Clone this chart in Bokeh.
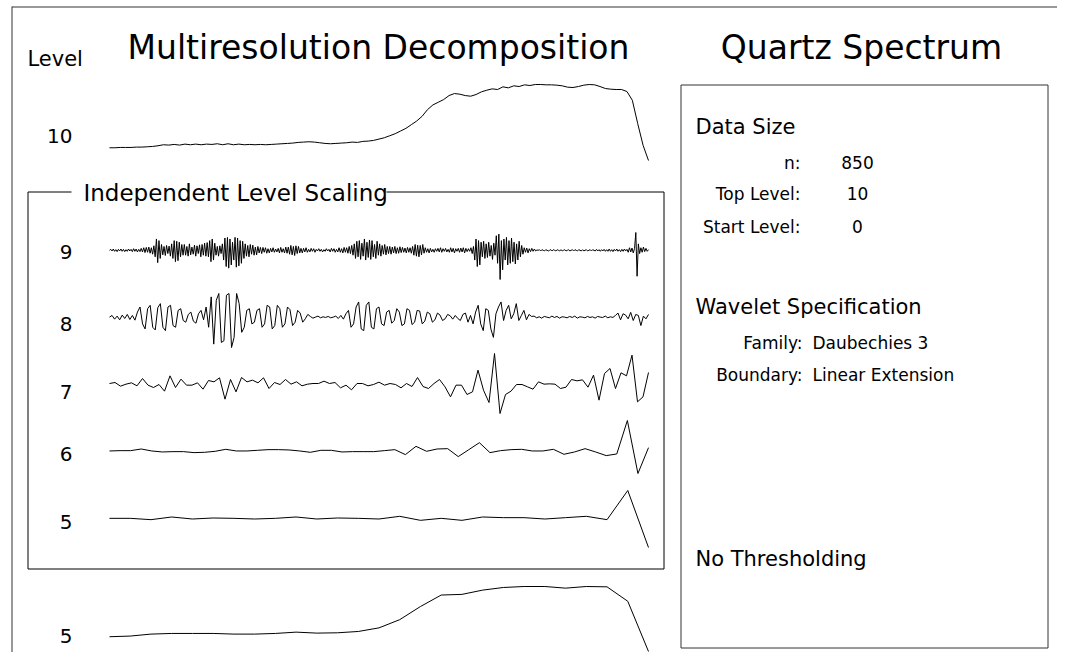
import numpy as np
from bokeh.plotting import figure
from bokeh.models import Range1d
from bokeh.core.properties import value
from bokeh.embed import file_html
from bokeh.resources import INLINE

# ---------------- data (arbitrary units) ----------------
level10_approx = [0, 0, 1, 1, 1, 2, 2, 3, 4, 6, 9, 8, 10, 8, 11, 9, 11, 9, 11, 10, 12, 9, 12, 9, 11, 9, 10, 9,
                  10, 9, 10, 11, 12, 13, 14, 16, 17, 18, 17, 15, 13, 12, 13, 14, 15, 17, 16, 19, 20, 22, 26, 30,
                  36, 42, 50, 58, 69, 80, 94, 114, 128, 136, 144, 156, 162, 160, 156, 154, 159, 167, 172, 176,
                  174, 182, 179, 185, 183, 188, 186, 189, 189, 188, 188, 187, 185, 181, 180, 183, 187, 189, 188,
                  183, 177, 175, 174, 174, 168, 142, 72, 7, -38]

level9_detail = [0, 3, -2, 4, -3, 2, -4, 3, -2, 4, -3, 3, -4, 2, -3, 4, -2, 3, -4, 5, -3, 4, -5, 3, -4, 6, -5, 8,
                 -7, 9, -6, 10, -9, 8, -12, 14,
                 -20, 35, -38, 30, -25, 18,
                 -14, 12, -16, 15, -10, 13, -18, 20,
                 -25, 30, -35, 28, -32, 25, -20, 18, -15,
                 18, -15, 12, -18, 20, -14, 10, -12, 16, -18, 14, -10, 17, -20, 18, -15, 22, -18, 24, -20,
                 30, -35, 35, -30, 22,
                 -15, 12, -18, 14, -10, 20,
                 -30, 38, -50, 40, -55, 35, -45, 25, -30, 40, -52, 38, -48, 30, -40, 28, -25,
                 20, -18, 15, -20, 18, -12, 16, -15, 10, -14, 12, -8, 9, -10,
                 9, -6, 8, -9, 5, -8, 6, -5, 8, -6, 4, -5, 6, -8, 9, -6, 5, -8, 10, -9,
                 10, -12, 15, -14, 12, -16, 14, -10, 12, -8, 6,
                 -8, 6, -5, 8, -6, 3, -5, 6, -3, 5, -6, 3, -2, 5, -3, 3, -5, 2, -3, 5, -2, 3, -5, 6, -3, 5,
                 -6, 3, -5, 8, -6, 5, -8, 9, -6, 8, -9, 12, -10, 15,
                 -15, 20, -25, 28, -20, 30, -28, 22, -18, 35, -30, 25, -22, 32, -28, 30, -20, 18, -25, 28,
                 -15, 20, -18, 15, -12, 18, -14, 12,
                 -10, 12, -12, 10, -8, 12, -10, 8, -9, 11, -7, 9, -6, 7,
                 -8, 9, -6, 8, -9, 12, -15, 18, -18, 16, -20, 15, -14, 18, -9, 8, -6, 5, -8, 6, -5, 3,
                 -6, 5, -3, 6, -5, 8, -6, 5, -3, 6, -5, 3, -6, 8, -5, 6, -8, 5, -3, 6,
                 -6, 7, -5, 8, -8, 6, -4, 5, -3, 8, -10, 12,
                 -30, 35, -50, 30, -45, 25, -20, 28,
                 -25, 20, -22, 25, -18, 15, -28, 22, -15,
                 45, -40, 50, -90, 30, -60, 35, -30,
                 40, -45, 30, -40, 38, -35, 25, -42, 20, -30, 28, -20, 15, -12,
                 8, -6, 7, -8, 5, -4, 6, -3, 4, -2, 1,
                 0, 2, -2, 2, 0, -2, 2, 0, -2, 0, 2, -2, 2, 0, -2, 2, 0, -2, 2, -2, 0, 2, -2, 0, 2, -2,
                 0, 2, -2, 2, 0, -2, 2, 0, -2, 2, -2, 0, 2, -2, 0, 2, -2, 2, 0, -2, 3, -2, 2, -3, 2, -2,
                 3, -3, 2, -3, 4, -3, 2, -4, 3, -2, 4, -3, 2, -4, 3, -3, 4, -2, 3,
                 -6, 8, -5, 7, -8, 6,
                 55, -80, 20, -10,
                 8, -6, 10, -4, 6, -3, 2]

level8_detail = [0, 5, -6, 3, -8, 6, -4, 8, -7, 5, -9,
                 15, 30, -20, -35, 25, 35, -30, -38, 28, 40, -30, -40, 30, 35, -25, -30, 20, 25, -10,
                 -15, 8, 15, -12, -18, 10, 20, -8,
                 30, -30, 60, -80, 50, 70, -75, -70, 65, 70, -90, -60, 70, 40, -45, -30, 20,
                 25, -20, -15, 20,
                 25, -30, -20, 35, 30, -35, -25, 35, 25, -30, -20, 30, 22, -25, -15, 20, 12, -15, -5, 8,
                 2, -3, 0, 3, -2, 1, -1, 2, -2, 0, 3, -4, 5, -6,
                 10, 20, -30, -20, 30, 45, -35, -40, 35, 45, -30, -35, 25, 30, -20, -25, 15,
                 20, -18, -10, 25, 15, -25, -20, 25, 20, -22, -15, 20, 18, -20, -12, 15, 10, -15, -8, 12,
                 6, -10, -5, 8, 4, -6, 5, -4,
                 -10, 8, 12, -15, 5, -20,
                 15, 35, -20, -40, 25, 20, -35, -60, 10,
                 30, 45, -10, 20, 35, -5, 10, 40, -10, 5, 20, -8, 8, 2,
                 3, -2, 1, -3, 2, 0, -2, 3, -1, 2, -3, 1, 0, -2, 2, -1, 3, -3, 1, 0, -2, 2, -1, 1, -3, 2,
                 0, -1, 3, -2, 1, -1,
                 5, 12, -8, 10, 6, -5, 14, -10, 8, 5, -25, 3, -5, 8]

level7_detail = [0, 3, -8, -2, 2, -7, 15, -5, -12, -3, -23, 23, -12, 13, -5, -5, 2, -17, 9, 5, 17, -47, 12,
                 -25, 18, 5, 10, 2, 17, -15, 3, -3, 12, -2, 5, -7, -2, 0, 0, 7, 0, 3, -13, -5, -19, 0, 0,
                 -7, -3, 4, -5, 0, -3, -13, 0, -9, 18, -9, -15, 0, 12, -10, -40, -5, -5, -33, -25, 40, -20,
                 -57, 90, -90, -33, -23, -3, -3, -10, -17, 5, -2, -1, -2, -15, -11, 12, 8, 11, -11, 25, -50,
                 30, 45, -15, 32, 23, 85, -55, -40, 33]

level6_detail = [0, 1, 1, 6, 0, -3, -2, -2, -5, -4, -1, 5, 0, 0, 2, 4, 4, 3, 0, -4, 2, 2, -3, -2, -2, -2,
                 1, 4, -11, 14, -1, 6, 7, -17, 4, 25, -5, 1, 4, 5, 0, 0, 5, -10, -3, 7, -3, -14, -9, 92,
                 -68, 10]

level5_detail = [0, 0, -4, 4, -2, 1, 0, -2, 0, 4, -2, 1, 0, -2, 6, -6, 0, -6, 4, 2, 2, -2, 2, 6, -4, 83, -87]

level5_approx = [0, 2, 8, 10, 10, 10, 8, 8, 10, 14, 11, 12, 16, 27, 52, 92, 127, 129, 142, 150, 153, 153,
                 148, 153, 152, 108, -45]

level_labels = ["10", "9", "8", "7", "6", "5", "5"]

info_labels = ["n:", "Top Level:", "Start Level:"]
info_values = ["850", "10", "0"]
wavelet_labels = ["Family:", "Boundary:"]
wavelet_values = ["Daubechies 3", "Linear Extension"]

# ---------------- layout ----------------
W, H = 1057, 652
X0, Y0 = 0, 0
FONT = value("DejaVu Sans")

p = figure(width=W, height=H, output_backend="svg", toolbar_location=None,
           x_range=Range1d(X0, X0 + W), y_range=Range1d(Y0 + H, Y0),
           x_axis_location=None, y_axis_location=None, min_border=0,
           outline_line_color=None, background_fill_color="white", border_fill_color="white")
p.grid.visible = False

series = [
    ("l10", level10_approx, 84, 160),
    ("l9", level9_detail, 232, 279),
    ("l8", level8_detail, 293, 347),
    ("l7", level7_detail, 353, 413),
    ("l6", level6_detail, 420, 473),
    ("l5", level5_detail, 490, 547),
    ("a5", level5_approx, 586, 651),
]
XL, XR = 109, 648

xr, yr = {}, {}
for name, ys, top, bot in series:
    n = len(ys)
    lo, hi = min(ys), max(ys)
    span = (hi - lo) * H / (bot - top)
    end = hi + span * (top - Y0) / H
    yr[name] = Range1d(end - span, end)
    xspan = (n - 1) * W / (XR - XL)
    xstart = -xspan * (XL - X0) / W
    xr[name] = Range1d(xstart, xstart + xspan)
p.extra_x_ranges = xr
p.extra_y_ranges = yr

for name, ys, top, bot in series:
    p.line(list(range(len(ys))), ys, x_range_name=name, y_range_name=name,
           line_color="black", line_width=1)

# frames
p.segment(x0=[11.5, 11.5], y0=[6.5, 6], x1=[1057, 11.5], y1=[6.5, 652], line_color="#333333", line_width=1)
p.segment(x0=[27.5, 386, 27.5, 663.5, 27.5],
          y0=[191.5, 191.5, 191.5, 191.5, 568.5],
          x1=[71, 663.5, 27.5, 663.5, 663.5],
          y1=[191.5, 191.5, 568.5, 568.5, 568.5], line_color="black", line_width=1)
p.quad(left=[680.5], right=[1047.5], top=[84.5], bottom=[647.5],
       fill_color=None, line_color="#333333", line_width=1)

# titles
p.text(x=[378, 861], y=[47, 47], text=["Multiresolution Decomposition", "Quartz Spectrum"],
       text_font=FONT, text_font_size="33px", text_align="center", text_baseline="alphabetic",
       text_color="black")
p.text(x=[27], y=[58], text=["Level"], text_font=FONT, text_font_size="21px",
       text_align="left", text_baseline="alphabetic", text_color="black")
p.text(x=[72] * 7, y=[135, 251, 323, 391, 453, 521, 635], text=level_labels,
       text_font=FONT, text_font_size="20px", text_align="right", text_baseline="alphabetic",
       text_color="black")
p.text(x=[83], y=[192], text=["Independent Level Scaling"], text_font=FONT, text_font_size="23px",
       text_align="left", text_baseline="alphabetic", text_color="black")

# right panel
p.text(x=[695, 695, 695], y=[126, 306, 558],
       text=["Data Size", "Wavelet Specification", "No Thresholding"],
       text_font=FONT, text_font_size="21px", text_align="left", text_baseline="alphabetic",
       text_color="black")
p.text(x=[800] * 3, y=[162, 193, 226], text=info_labels, text_font=FONT, text_font_size="17px",
       text_align="right", text_baseline="alphabetic", text_color="black")
p.text(x=[857] * 3, y=[162, 193, 226], text=info_values, text_font=FONT, text_font_size="17px",
       text_align="center", text_baseline="alphabetic", text_color="black")
p.text(x=[802] * 2, y=[342, 374], text=wavelet_labels, text_font=FONT, text_font_size="17px",
       text_align="right", text_baseline="alphabetic", text_color="black")
p.text(x=[812] * 2, y=[342, 374], text=wavelet_values, text_font=FONT, text_font_size="17px",
       text_align="left", text_baseline="alphabetic", text_color="black")

open("out.html", "w").write(file_html(p, INLINE))
